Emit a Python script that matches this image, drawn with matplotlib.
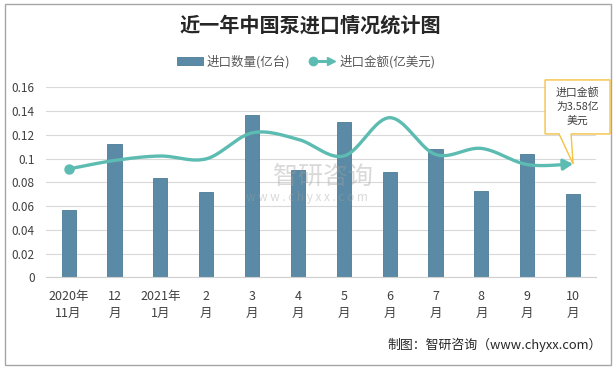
import numpy as np
import matplotlib
matplotlib.use('Agg')
import matplotlib.pyplot as plt
from matplotlib.patches import Rectangle, Polygon
from matplotlib.lines import Line2D
from matplotlib.legend_handler import HandlerBase
import matplotlib.transforms as mtrans

plt.rcParams['font.family'] = ['Noto Sans CJK SC', 'DejaVu Sans']

# ---------------- data ----------------
categories = ['2020年\n11月', '12\n月', '2021年\n1月', '2\n月', '3\n月', '4\n月',
              '5\n月', '6\n月', '7\n月', '8\n月', '9\n月', '10\n月']
quantity = [0.057, 0.112, 0.084, 0.072, 0.137, 0.090, 0.131, 0.089, 0.108, 0.073, 0.104, 0.070]  # 亿台
amount = [3.42, 3.69, 3.83, 3.74, 4.56, 4.36, 3.83, 5.04, 3.88, 4.07, 3.56, 3.58]  # 亿美元
y_ticks = [0, 0.02, 0.04, 0.06, 0.08, 0.10, 0.12, 0.14, 0.16]
y_tick_labels = ['0', '0.02', '0.04', '0.06', '0.08', '0.1', '0.12', '0.14', '0.16']
series_names = ['进口数量(亿台)', '进口金额(亿美元)']
title = '近一年中国泵进口情况统计图'
note = '进口金额\n为3.58亿\n美元'
source = '制图：智研咨询（www.chyxx.com）'

BAR = '#5a8aa5'
BAR_EDGE = '#4c7c97'
LINE = '#5cbcb2'
TXT = '#404040'

W, H = 616, 369
fig = plt.figure(figsize=(W / 100, H / 100), dpi=100)
fig.patch.set_facecolor('white')

# outer border
fig.add_artist(Rectangle((5 / W, 4 / H), 606 / W, 361 / H, transform=fig.transFigure,
                         fill=False, ec='#a6a6a6', lw=1.0))

ax = fig.add_axes([45.7 / W, 1 - 277.3 / H, (596 - 45.7) / W, 190 / H])
x = np.arange(len(categories))
ax.bar(x, quantity, width=0.31, color=BAR, edgecolor=BAR_EDGE, linewidth=0.6, zorder=2)
ax.set_xlim(-0.5, len(categories) - 0.5)
ax.set_ylim(0, 0.16)
ax.set_yticks(y_ticks, y_tick_labels)
ax.set_xticks(x, categories)
ax.tick_params(axis='y', length=0, pad=8, labelsize=8.5, labelcolor=TXT)
ax.tick_params(axis='x', length=0, pad=9, labelsize=9, labelcolor=TXT)
for lab in ax.get_xticklabels():
    lab.set_linespacing(1.45)
ax.grid(axis='y', color='#d9d9d9', lw=0.8)
ax.set_axisbelow(True)
for s in ['top', 'right', 'left']:
    ax.spines[s].set_visible(False)
ax.spines['bottom'].set_color('#d0d0d0')
ax.spines['bottom'].set_linewidth(0.8)

ax2 = ax.twinx()
ax2.set_ylim(0, 6.0)
ax2.axis('off')

# smooth (Excel-like) curve, computed in display space
pts = ax2.transData.transform(np.column_stack([x, amount]))
seg = []
n = len(pts)
for i in range(n - 1):
    p0 = pts[i - 1] if i > 0 else pts[i]
    p1 = pts[i]
    p2 = pts[i + 1]
    p3 = pts[i + 2] if i + 2 < n else pts[i + 1]
    c1 = p1 + (p2 - p0) / 6.0
    c2 = p2 - (p3 - p1) / 6.0
    t = np.linspace(0, 1, 40)[:, None]
    b = ((1 - t) ** 3) * p1 + 3 * ((1 - t) ** 2) * t * c1 + 3 * (1 - t) * t ** 2 * c2 + t ** 3 * p2
    seg.append(b if i == 0 else b[1:])
curve = np.vstack(seg)
cd = ax2.transData.inverted().transform(curve)
# find a point ~9px before the end for the arrow head
dist = np.hypot(*(curve - curve[-1]).T)
k = np.where(dist > 9)[0][-1]
ax2.plot(cd[:k + 1, 0], cd[:k + 1, 1], color=LINE, lw=2.4, solid_capstyle='butt', zorder=3)
ax2.plot([x[0]], [amount[0]], marker='o', ms=6.5, color=LINE, zorder=4)
ax2.annotate('', xy=(cd[-1, 0], cd[-1, 1]), xytext=(cd[k, 0], cd[k, 1]),
             arrowprops=dict(arrowstyle='-|>,head_length=0.55,head_width=0.32', color=LINE,
                             lw=2.4, shrinkA=0, shrinkB=0), zorder=4)

# callout box
px, py = ax2.transData.transform((x[-1], amount[-1]))
offs = [(-28, 84), (37, 84), (37, 30), (-2, 30), (0, 0), (-14, 30), (-28, 30)]
verts = [(px + dx, py + dy) for dx, dy in offs]
fig.add_artist(Polygon(verts, closed=True, transform=mtrans.IdentityTransform(),
                       fc='white', ec='#f5c242', lw=1.0, zorder=5))
fig.text(px + 4.5, py + 57, note, transform=mtrans.IdentityTransform(), ha='center', va='center',
         fontsize=7.8, color=TXT, linespacing=1.45, zorder=6)

# watermark
fig.text(323 / W, 1 - 177 / H, '智研咨询', ha='center', va='center', fontsize=18,
         color='#a0a0a0', alpha=0.4, zorder=1)
fig.text(307 / W, 1 - 198 / H, 'w w w . c h y x x . c o m', ha='center', va='center',
         fontsize=8.5, color='#a0a0a0', alpha=0.4, zorder=1)

# title
fig.text(310 / W, 1 - 25 / H, title, ha='center', va='center', fontsize=14.5,
         fontweight='bold', color='#262626')


# legend
class HandlerArrowLine(HandlerBase):
    def create_artists(self, legend, orig_handle, xdescent, ydescent, width, height, fontsize, trans):
        y = height / 2 - ydescent
        x0 = -xdescent + 3
        x1 = -xdescent + width
        line = Line2D([x0, x1 - 5], [y, y], color=LINE, lw=2.2, transform=trans)
        dot = Line2D([x0], [y], marker='o', ms=6, color=LINE, lw=0, transform=trans)
        arr = Line2D([x1 - 3], [y], marker='>', ms=6, color=LINE, lw=0, transform=trans)
        return [line, dot, arr]


handles = [Rectangle((0, 0), 1, 1, fc=BAR, ec=BAR_EDGE, lw=0.6),
           Line2D([], [], color=LINE)]
fig.legend(handles, series_names, loc='center', bbox_to_anchor=(306 / W, 1 - 61.5 / H),
           ncol=2, frameon=False, fontsize=9, handlelength=2.1, handleheight=0.6,
           handletextpad=0.3, columnspacing=1.5, labelcolor='#595959',
           handler_map={Line2D: HandlerArrowLine()})

# source
fig.text(602 / W, 1 - 345 / H, source, ha='right', va='center', fontsize=9.3, color='#262626')

fig.savefig('out.png', dpi=100)
